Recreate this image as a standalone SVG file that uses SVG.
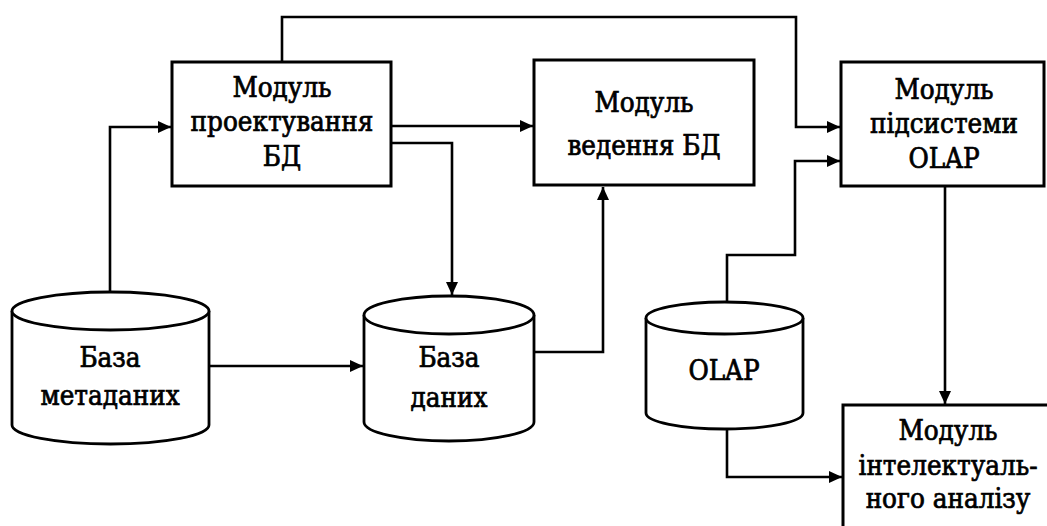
<svg xmlns="http://www.w3.org/2000/svg" width="1047" height="526" viewBox="0 0 1047 526">
<style>
.box{fill:#fff;stroke:#000;stroke-width:3}
.cyl{fill:#fff;stroke:#000;stroke-width:2.8}
.ln{fill:none;stroke:#000;stroke-width:2.6}
text{font-family:"DejaVu Serif Condensed","DejaVu Serif","Liberation Serif",serif;font-size:27.5px;fill:#000;stroke:#000;stroke-width:0.7;text-anchor:middle}
</style>
<defs>
<marker id="arr" markerUnits="userSpaceOnUse" markerWidth="14" markerHeight="12" refX="13" refY="6" orient="auto">
<path d="M0,0 L13,6 L0,12 z" fill="#000"/>
</marker>
</defs>
<rect width="1047" height="526" fill="#fff"/>
<g id="connectors">
<path class="ln" d="M110,292 V127 H171" marker-end="url(#arr)"/>
<path class="ln" d="M282,62 V17 H796 V127 H840" marker-end="url(#arr)"/>
<path class="ln" d="M391,126 H533" marker-end="url(#arr)"/>
<path class="ln" d="M391,143 H452 V295" marker-end="url(#arr)"/>
<path class="ln" d="M209,366 H363" marker-end="url(#arr)"/>
<path class="ln" d="M534,352 H603 V187" marker-end="url(#arr)"/>
<path class="ln" d="M727,302 V255 H795 V161 H840" marker-end="url(#arr)"/>
<path class="ln" d="M945,186 V404" marker-end="url(#arr)"/>
<path class="ln" d="M727,429 V477 H842" marker-end="url(#arr)"/>
</g>
<g id="box-design">
<rect class="box" x="172" y="62" width="219" height="124"/>
<text x="282" y="97">Модуль</text>
<text x="282" y="131">проектування</text>
<text x="282" y="166">БД</text>
</g>
<g id="box-maintain">
<rect class="box" x="534" y="60" width="220" height="125"/>
<text x="644" y="112">Модуль</text>
<text x="644" y="155">ведення БД</text>
</g>
<g id="box-olap">
<rect class="box" x="841" y="62" width="203" height="124"/>
<text x="944" y="99">Модуль</text>
<text x="944" y="133">підсистеми</text>
<text x="944" y="168">OLAP</text>
</g>
<g id="box-mining">
<rect class="box" x="843" y="405" width="220" height="140"/>
<text x="948" y="440">Модуль</text>
<text x="948" y="475">інтелектуаль-</text>
<text x="948" y="508">ного аналізу</text>
</g>
<g id="db-meta">
<path class="cyl" d="M12,311 V425 A98.5,19 0 0 0 209,425 V311"/>
<ellipse class="cyl" cx="110.5" cy="311" rx="98.5" ry="19"/>
<text x="110" y="367">База</text>
<text x="110" y="405">метаданих</text>
</g>
<g id="db-data">
<path class="cyl" d="M364,315 V422 A85,19 0 0 0 534,422 V315"/>
<ellipse class="cyl" cx="449" cy="315" rx="85" ry="19"/>
<text x="449" y="367">База</text>
<text x="449" y="407">даних</text>
</g>
<g id="db-olap">
<path class="cyl" d="M646,318 V413 A78.5,16 0 0 0 803,413 V318"/>
<ellipse class="cyl" cx="724.5" cy="318" rx="78.5" ry="16"/>
<text x="724" y="380">OLAP</text>
</g>
</svg>
